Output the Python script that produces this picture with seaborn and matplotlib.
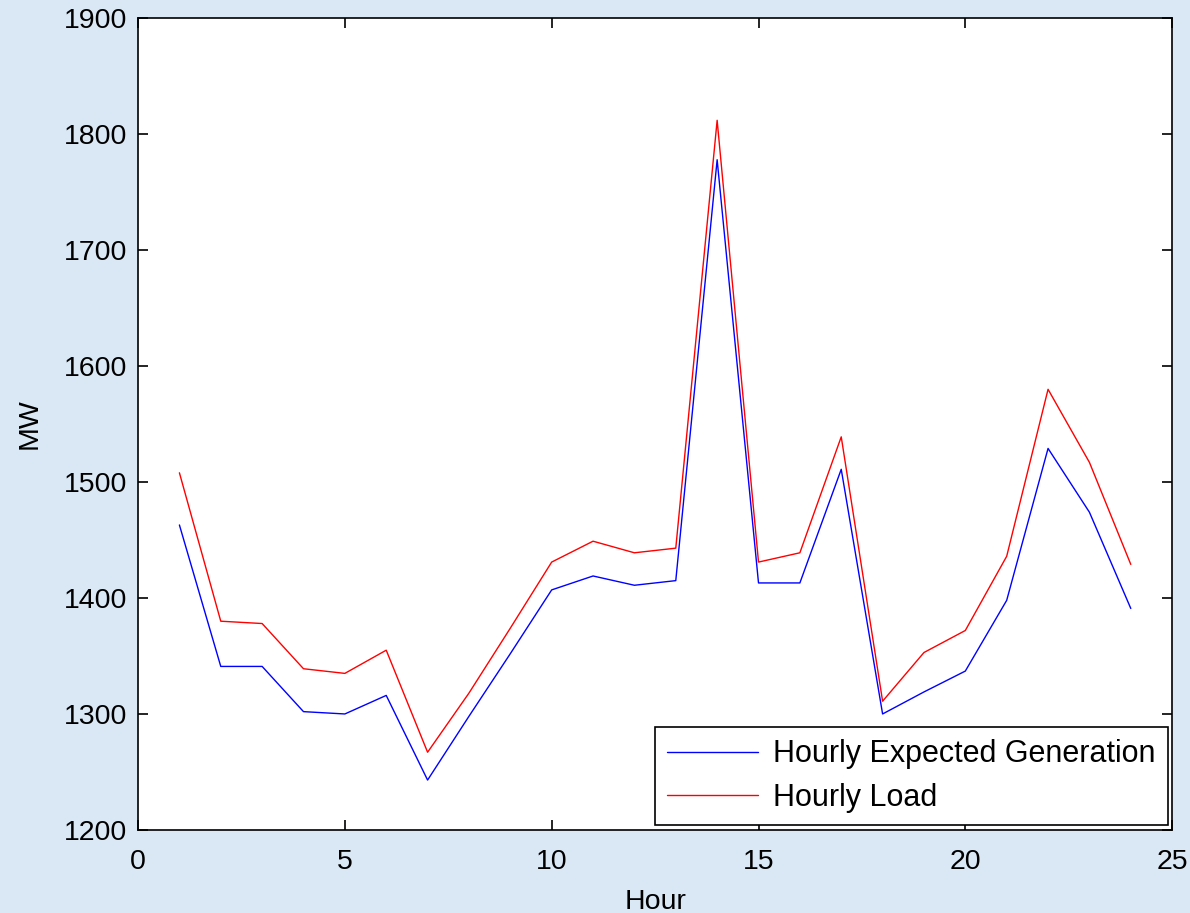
import pandas as pd
import matplotlib
matplotlib.use('Agg')
import matplotlib.pyplot as plt
import seaborn as sns

hours = list(range(1, 25))
expected_gen = [1463, 1341, 1341, 1302, 1300, 1316, 1243, 1298, 1352, 1407, 1419, 1411,
                1415, 1778, 1413, 1413, 1511, 1300, 1319, 1337, 1398, 1529, 1474, 1391]
load = [1508, 1380, 1378, 1339, 1335, 1355, 1267, 1318, 1374, 1431, 1449, 1439,
        1443, 1812, 1431, 1439, 1539, 1311, 1353, 1372, 1436, 1580, 1517, 1429]
series_names = ['Hourly Expected Generation', 'Hourly Load']

df = pd.DataFrame({
    'Hour': hours * 2,
    'MW': expected_gen + load,
    'Series': [series_names[0]] * 24 + [series_names[1]] * 24,
})

sns.set_style('ticks')
plt.rcParams['font.family'] = ['Liberation Sans', 'DejaVu Sans']
plt.rcParams['text.color'] = 'black'
plt.rcParams['axes.labelcolor'] = 'black'

fig = plt.figure(figsize=(11.9, 9.13), dpi=100)
fig.patch.set_facecolor('#dae8f6')
ax = fig.add_axes([0.116, 0.091, 0.869, 0.889])
ax.set_facecolor('white')

sns.lineplot(data=df, x='Hour', y='MW', hue='Series',
             palette={series_names[0]: '#0000ff', series_names[1]: '#ff0000'},
             linewidth=1.0, ax=ax)

ax.set_xlim(0, 25)
ax.set_ylim(1200, 1900)
ax.set_xticks(range(0, 26, 5))
ax.set_yticks(range(1200, 1901, 100))
ax.tick_params(direction='in', length=7, width=1.2, top=True, right=True,
               labelsize=20.5, colors='black')
ax.tick_params(axis='x', pad=14)
ax.tick_params(axis='y', pad=8)
for s in ax.spines.values():
    s.set_color('black')
    s.set_linewidth(1.2)
ax.set_xlabel('Hour', fontsize=20.5, labelpad=10)
ax.set_ylabel('MW', fontsize=20.5, labelpad=15)

leg = ax.legend(loc='lower right', fontsize=22, frameon=True, fancybox=False,
                edgecolor='black', framealpha=1, handlelength=2.95, handletextpad=0.5,
                borderaxespad=0.15, borderpad=0.4, labelspacing=0.45)
leg.get_frame().set_linewidth(1.2)

fig.savefig('out.png', dpi=100, facecolor=fig.get_facecolor())
